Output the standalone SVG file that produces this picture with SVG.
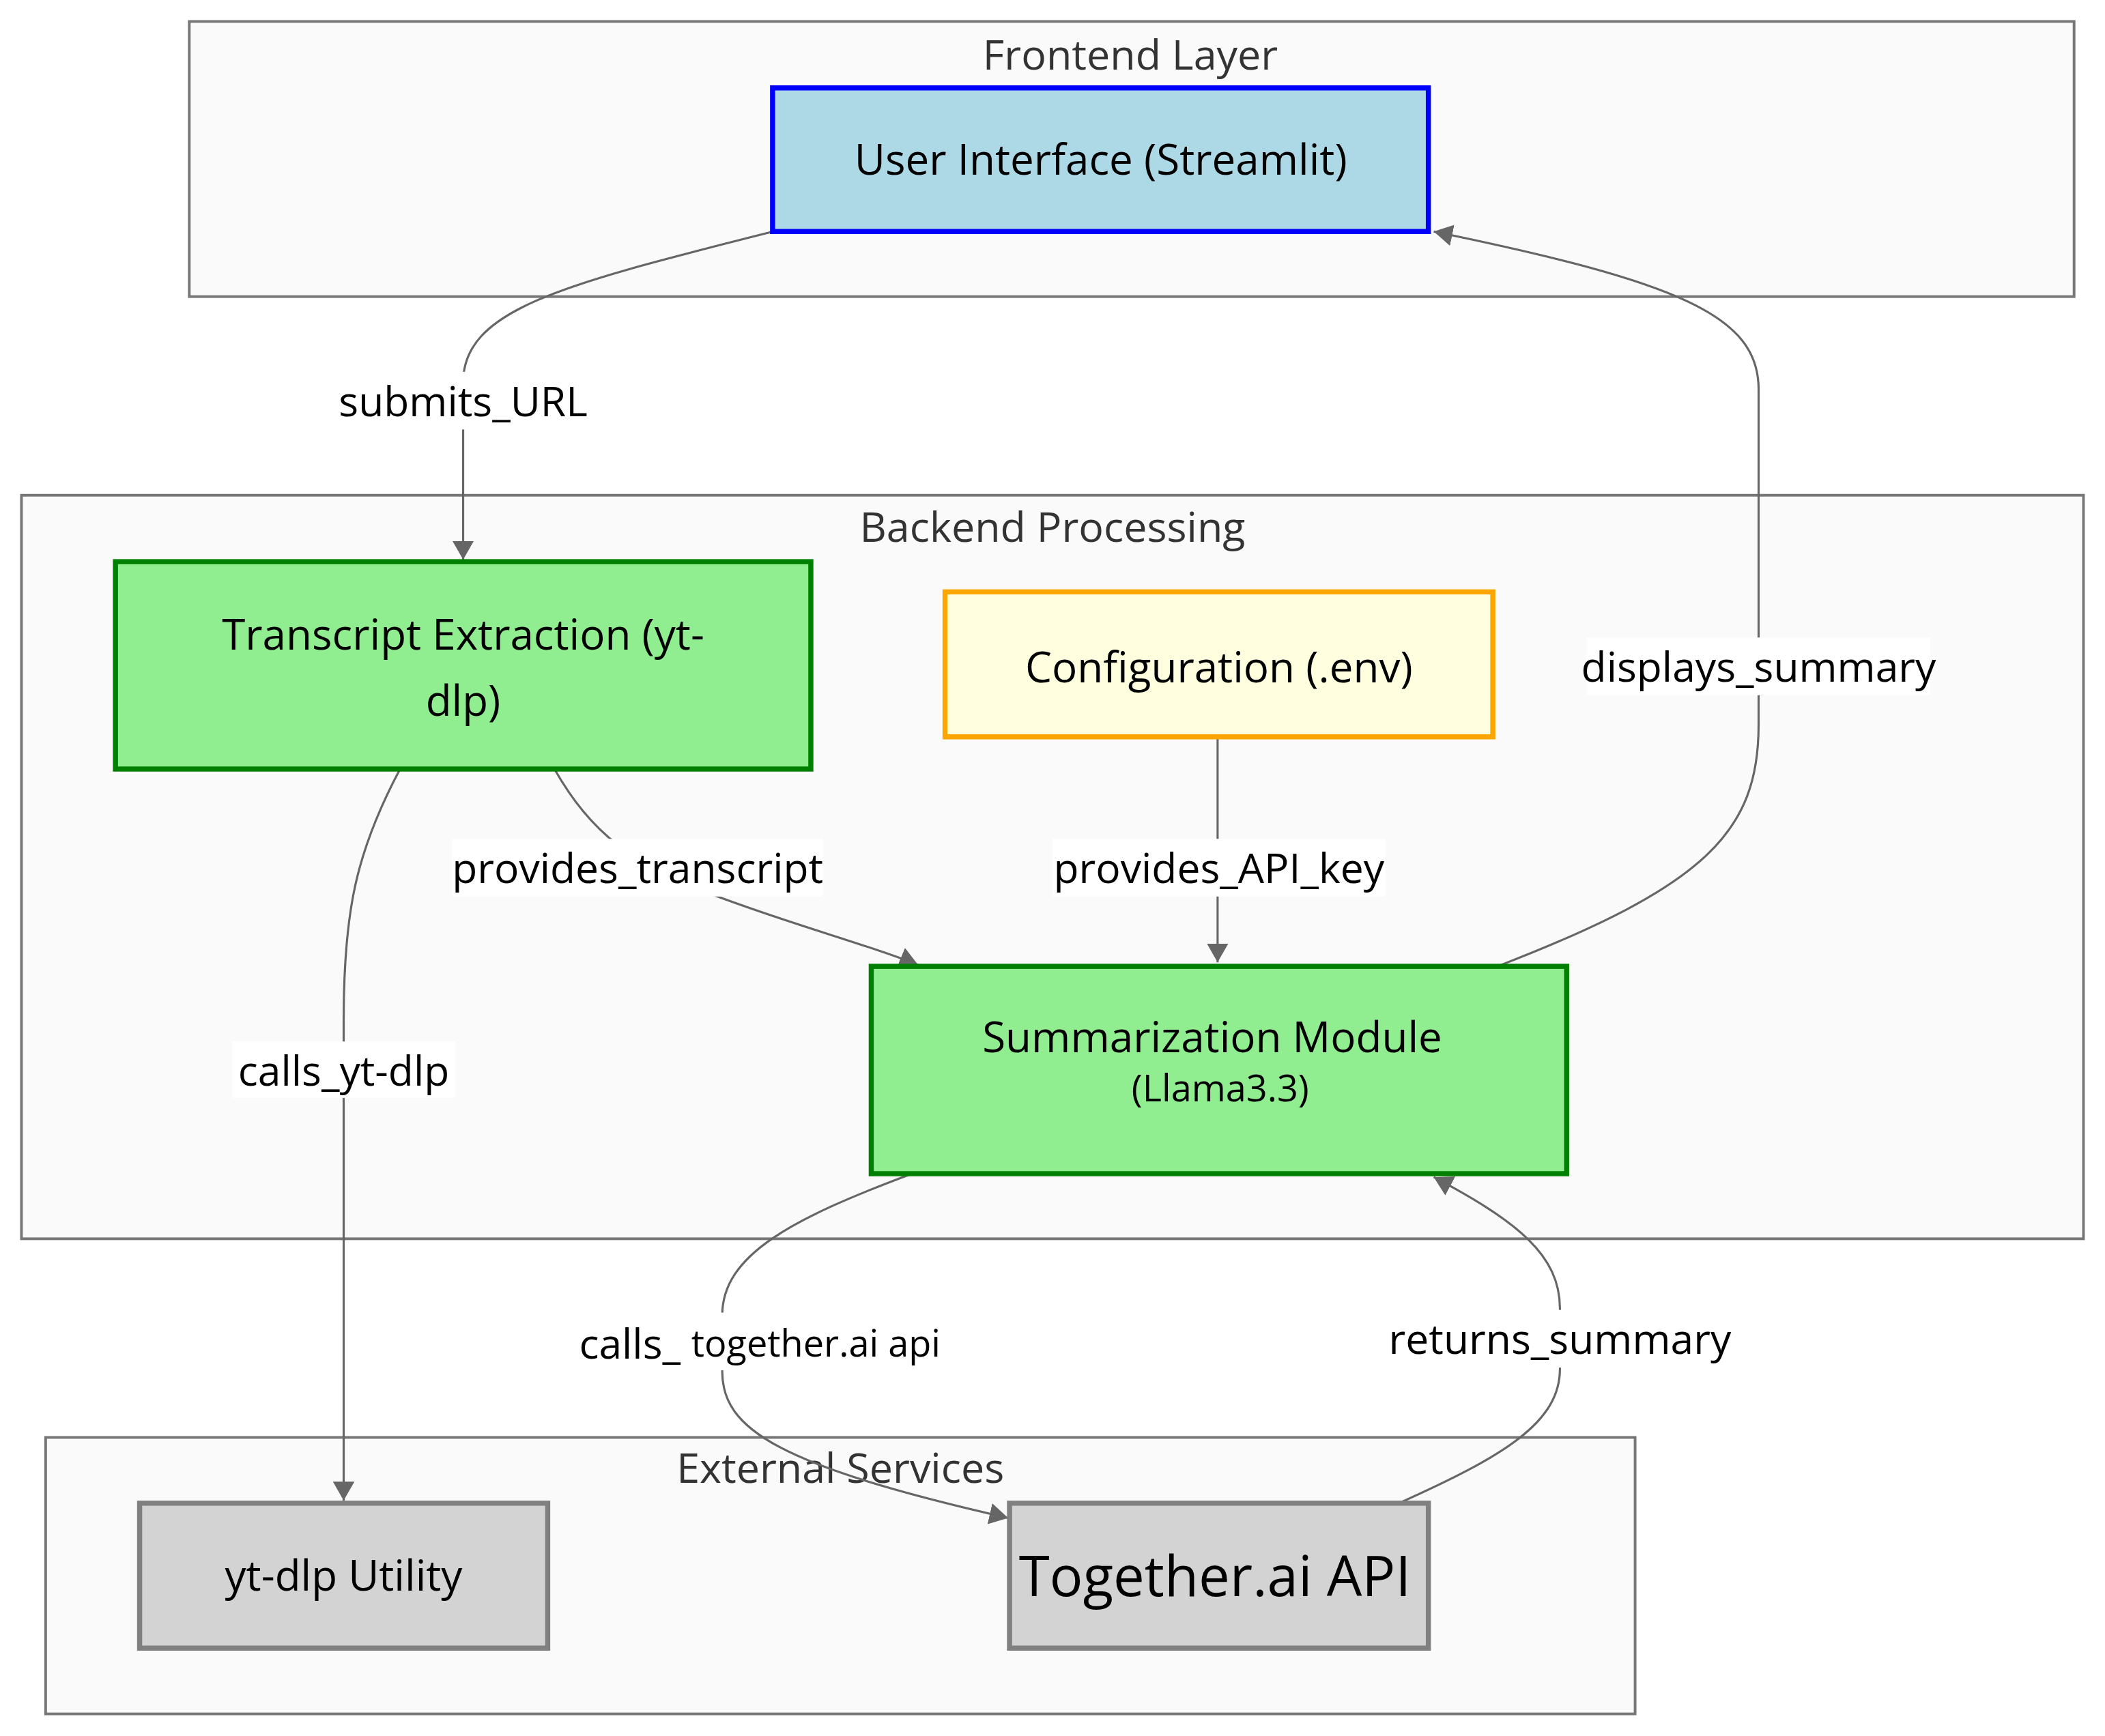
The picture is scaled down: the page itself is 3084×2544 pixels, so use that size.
<svg xmlns="http://www.w3.org/2000/svg" width="3084" height="2544" viewBox="0 0 3084 2544">
<style>
.cluster rect{fill:#fafafa;stroke:#777;stroke-width:2}
.ctitle{font-family:"Open Sans","Noto Sans",sans-serif;font-size:31px;fill:#333;text-anchor:middle;dominant-baseline:central}
.node rect{stroke-width:3.8}
.ntext{font-family:"Open Sans","Noto Sans",sans-serif;font-size:31.5px;fill:#000;text-anchor:middle;dominant-baseline:central}
.edge{fill:none;stroke:#666;stroke-width:1.6;marker-end:url(#arr)}
.lbg{fill:#fff}
.ltext{font-family:"Open Sans","Noto Sans",sans-serif;font-size:30.8px;fill:#000;text-anchor:middle;dominant-baseline:central}
</style>
<defs>
<marker id="arr" viewBox="0 0 10 10" refX="10" refY="5" markerWidth="14" markerHeight="16" markerUnits="userSpaceOnUse" orient="auto" preserveAspectRatio="none">
<path d="M0,0 L10,5 L0,10 z" fill="#666"/>
</marker>
</defs>
<rect width="3084" height="2544" fill="#fff"/>
<g transform="scale(1.9668)">
<g id="clusters" class="cluster">
<g id="frontend-layer"><rect x="141" y="16" width="1404" height="205"/><text class="ctitle" x="842" y="40">Frontend Layer</text></g>
<g id="backend-processing"><rect x="16" y="369" width="1536" height="554"/><text class="ctitle" x="784" y="392">Backend Processing</text></g>
<g id="external-services"><rect x="34" y="1071" width="1184" height="206"/><text class="ctitle" x="626" y="1093">External Services</text></g>
</g>
<g id="connectors">
<path class="edge" d="M576,172.5 C420,212 345,230 345,285 L345,417"/>
<path class="edge" d="M1118,719 C1270,660 1310,620 1310,540 L1310,290 C1310,235 1250,210 1068,172.5"/>
<path class="edge" d="M413,573 C440,620 470,645 540,670 C600,692 650,705 684,719"/>
<path class="edge" d="M907,549 L907,717"/>
<path class="edge" d="M298,573 C265,635 256,680 256,760 L256,1118"/>
<path class="edge" d="M678,875 C590,908 538,935 538,980 L538,1022 C538,1065 580,1092 751,1131"/>
<path class="edge" d="M1042,1120 C1120,1085 1162,1060 1162,1020 L1162,975 C1162,935 1130,910 1068,877"/>
<g id="edge-labels">
<rect class="lbg" x="255" y="277" width="181" height="43"/><text class="ltext" x="345" y="298">submits_URL</text>
<rect class="lbg" x="1182" y="475" width="256" height="43"/><text class="ltext" x="1310" y="496">displays_summary</text>
<rect class="lbg" x="337" y="625" width="276" height="43"/><text class="ltext" x="475" y="646">provides_transcript</text>
<rect class="lbg" x="784" y="625" width="248" height="43"/><text class="ltext" x="908" y="646">provides_API_key</text>
<rect class="lbg" x="173" y="776" width="166" height="42"/><text class="ltext" x="256" y="797">calls_yt-dlp</text>
<rect class="lbg" x="424" y="978" width="286" height="43"/><text class="ltext" x="566" y="1000"><tspan>calls_ </tspan><tspan style="font-size:27.5px">together.ai api</tspan></text>
<rect class="lbg" x="1040" y="976" width="246" height="43"/><text class="ltext" x="1162" y="997">returns_summary</text>
</g>
</g>
<g id="node-ui" class="node"><rect x="575.5" y="65.5" width="488.5" height="107" fill="#add8e6" stroke="#0000ff"/><text class="ntext" x="820" y="118">User Interface (Streamlit)</text></g>
<g id="node-transcript" class="node"><rect x="86" y="418.5" width="518" height="154.5" fill="#90ee90" stroke="#008000"/><text class="ntext" x="345" y="472">Transcript Extraction (yt-</text><text class="ntext" x="345" y="521">dlp)</text></g>
<g id="node-config" class="node"><rect x="704" y="441" width="408" height="108" fill="#ffffe0" stroke="#ffa500"/><text class="ntext" x="908" y="496">Configuration (.env)</text></g>
<g id="node-summarization" class="node"><rect x="649" y="720" width="518" height="154.5" fill="#90ee90" stroke="#008000"/><text class="ntext" x="903" y="772">Summarization Module</text><text class="ntext" x="909" y="810" style="font-size:27.5px">(Llama3.3)</text></g>
<g id="node-ytdlp" class="node"><rect x="104" y="1120" width="304" height="108" fill="#d3d3d3" stroke="#808080"/><text class="ntext" x="256" y="1173">yt-dlp Utility</text></g>
<g id="node-together" class="node"><rect x="752" y="1120" width="312" height="108" fill="#d3d3d3" stroke="#808080"/><text class="ntext" x="905" y="1173" style="font-size:41.5px">Together.ai API</text></g>
</g>
</svg>
